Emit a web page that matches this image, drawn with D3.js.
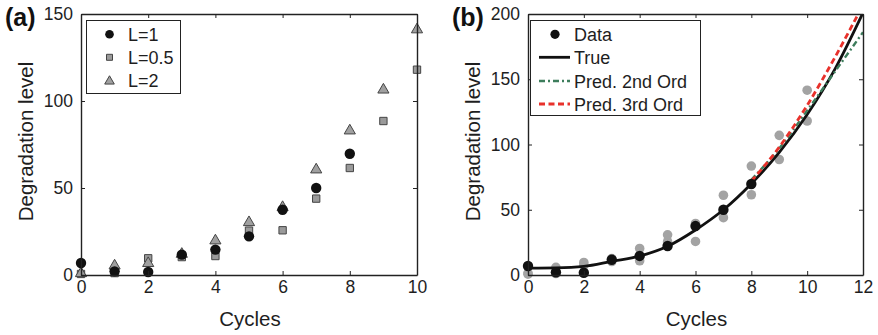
<!DOCTYPE html>
<html>
<head>
<meta charset="utf-8">
<script src="https://cdn.jsdelivr.net/npm/d3@7"></script>
<style>
  body { margin: 0; background: #fff; }
  svg { display: block; font-family: "Liberation Sans", Arial, sans-serif; }
</style>
</head>
<body>
<div id="container"></div>
<script>
/* DATA */
const cycles = [0, 1, 2, 3, 4, 5, 6, 7, 8, 9, 10];
const degL1 = [6.9, 2.1, 1.7, 11.7, 14.6, 22.2, 37.5, 50, 69.7];       // cycles 0..8
const degL05 = [0.6, 1.1, 9.6, 10.3, 10.9, 25.5, 25.7, 43.9, 61.5, 88.5, 118];
const degL2 = [1.5, 5.9, 7.3, 12.6, 20.3, 30.8, 39.5, 61.1, 83.5, 107, 141.6];

const trueCycles = [0, 1, 2, 3, 4, 5, 6, 7, 8, 9, 10, 11, 12];
const trueDeg = [5.2, 5.4, 6.6, 10.5, 14.5, 22, 34.5, 50, 70, 94, 123, 158, 201];
const predCycles = [8, 9, 10, 11, 12];
const pred2nd = [73, 97, 126, 156, 186];
const pred3rd = [72, 98, 130, 167, 207];

const xTicksA = [0, 2, 4, 6, 8, 10];
const yTicksA = [0, 50, 100, 150];
const xTicksB = [0, 2, 4, 6, 8, 10, 12];
const yTicksB = [0, 50, 100, 150, 200];

/* CONSTANTS */
const width = 878, height = 335;
const plotTop = 14, plotBottom = 275;
const textColor = "#1e1e1e";
const greyFill = "#9a9a9a";
const green = "#3d7d5c";
const red = "#e8312b";

const svg = d3.select("#container").append("svg")
  .attr("width", width).attr("height", height);

function frame(g, x, y, xTicks, yTicks) {
  const [x0, x1] = x.range();
  const [y0, y1] = y.range();
  const styleAxis = sel => {
    sel.select(".domain").attr("stroke", "#222").attr("stroke-width", 1.4);
    sel.selectAll(".tick line").attr("stroke", "#222").attr("stroke-width", 1);
    sel.selectAll("text").attr("fill", textColor).style("font-size", "17.5px");
  };
  g.append("g").attr("transform", `translate(0,${y0})`)
    .call(d3.axisBottom(x).tickValues(xTicks).tickSizeInner(-4).tickSizeOuter(0).tickPadding(6).tickFormat(d3.format("d")))
    .call(styleAxis);
  g.append("g").attr("transform", `translate(0,${y1})`)
    .call(d3.axisTop(x).tickValues(xTicks).tickSizeInner(-4).tickSizeOuter(0).tickFormat(""))
    .call(styleAxis);
  g.append("g").attr("transform", `translate(${x0},0)`)
    .call(d3.axisLeft(y).tickValues(yTicks).tickSizeInner(-4).tickSizeOuter(0).tickPadding(8).tickFormat(d3.format("d")))
    .call(styleAxis);
  g.append("g").attr("transform", `translate(${x1},0)`)
    .call(d3.axisRight(y).tickValues(yTicks).tickSizeInner(-4).tickSizeOuter(0).tickFormat(""))
    .call(styleAxis);
  g.selectAll("text").attr("font-family", "Liberation Sans, Arial, sans-serif");
}

function labels(g, x, y, tag, tagX) {
  const [x0, x1] = x.range();
  g.append("text").attr("x", (x0 + x1) / 2 + 1).attr("y", 326)
    .attr("text-anchor", "middle").attr("fill", textColor)
    .style("font-size", "20.5px").text("Cycles");
  g.append("text")
    .attr("transform", `translate(${x0 - 48},${(plotTop + plotBottom) / 2 - 3}) rotate(-90)`)
    .attr("text-anchor", "middle").attr("fill", textColor)
    .style("font-size", "20.5px").text("Degradation level");
  g.append("text").attr("x", tagX).attr("y", 26)
    .attr("fill", "#111").style("font-size", "25px").style("font-weight", "bold")
    .text(tag);
}

/* PANEL (a) */
const xA = d3.scaleLinear().domain([0, 10]).range([81, 417]);
const yA = d3.scaleLinear().domain([0, 150]).range([plotBottom, plotTop]);
const gA = svg.append("g");

const sq = d3.symbol().type(d3.symbolSquare).size(54);
const tri = d3.symbol().type(d3.symbolTriangle).size(54);

gA.selectAll(".sq").data(degL05).join("path").attr("class", "sq")
  .attr("d", sq)
  .attr("transform", (d, i) => `translate(${xA(cycles[i])},${yA(d)})`)
  .attr("fill", greyFill).attr("stroke", "#444").attr("stroke-width", 1);

gA.selectAll(".tri").data(degL2).join("path").attr("class", "tri")
  .attr("d", tri)
  .attr("transform", (d, i) => `translate(${xA(cycles[i])},${yA(d) + 1})`)
  .attr("fill", "#a0a0a0").attr("stroke", "#444").attr("stroke-width", 1);

gA.selectAll(".dot").data(degL1).join("circle").attr("class", "dot")
  .attr("cx", (d, i) => xA(cycles[i])).attr("cy", d => yA(d))
  .attr("r", 5.2).attr("fill", "#111");

frame(gA, xA, yA, xTicksA, yTicksA);
labels(gA, xA, yA, "(a)", 5);

// legend (a)
const legA = gA.append("g");
legA.append("rect").attr("x", 86.5).attr("y", 20.5).attr("width", 94).attr("height", 73)
  .attr("fill", "#fff").attr("stroke", "#222").attr("stroke-width", 1);
const legAItems = ["L=1", "L=0.5", "L=2"];
const legARows = [34.3, 57.3, 80.3];
legA.append("circle").attr("cx", 109.5).attr("cy", legARows[0]).attr("r", 4.3).attr("fill", "#111");
legA.append("path").attr("d", d3.symbol().type(d3.symbolSquare).size(36))
  .attr("transform", `translate(109.5,${legARows[1]})`)
  .attr("fill", greyFill).attr("stroke", "#444");
legA.append("path").attr("d", d3.symbol().type(d3.symbolTriangle).size(40))
  .attr("transform", `translate(109.5,${legARows[2] + 1})`)
  .attr("fill", "#a0a0a0").attr("stroke", "#444");
legA.selectAll(".lt").data(legAItems).join("text").attr("class", "lt")
  .attr("x", 128).attr("y", (d, i) => legARows[i] + 6.5)
  .attr("fill", textColor).style("font-size", "18px").text(d => d);

/* PANEL (b) */
const xB = d3.scaleLinear().domain([0, 12]).range([528, 863]);
const yB = d3.scaleLinear().domain([0, 200]).range([plotBottom, plotTop]);
const gB = svg.append("g");

svg.append("defs").append("clipPath").attr("id", "clipB")
  .append("rect").attr("x", 528).attr("y", plotTop).attr("width", 335).attr("height", plotBottom - plotTop);

const grey = degL05.map((d, i) => [cycles[i], d]).concat(degL2.map((d, i) => [cycles[i], d]));
gB.selectAll(".gdot").data(grey).join("circle").attr("class", "gdot")
  .attr("cx", d => xB(d[0])).attr("cy", d => yB(d[1]))
  .attr("r", 4.8).attr("fill", "#a3a3a3");

const lineB = d3.line().x(d => xB(d[0])).y(d => yB(d[1]));
const plotB = gB.append("g").attr("clip-path", "url(#clipB)");

plotB.append("path")
  .datum(trueCycles.map((c, i) => [c, trueDeg[i]]))
  .attr("d", lineB.curve(d3.curveMonotoneX))
  .attr("fill", "none").attr("stroke", "#111").attr("stroke-width", 2.8);

plotB.append("path")
  .datum(predCycles.map((c, i) => [c, pred2nd[i]]))
  .attr("d", lineB.curve(d3.curveMonotoneX))
  .attr("fill", "none").attr("stroke", green).attr("stroke-width", 2.4)
  .attr("stroke-dasharray", "6,3,2,3");

plotB.append("path")
  .datum(predCycles.map((c, i) => [c, pred3rd[i]]))
  .attr("d", lineB.curve(d3.curveMonotoneX))
  .attr("fill", "none").attr("stroke", red).attr("stroke-width", 2.8)
  .attr("stroke-dasharray", "6,3.5");

gB.selectAll(".bdot").data(degL1).join("circle").attr("class", "bdot")
  .attr("cx", (d, i) => xB(cycles[i])).attr("cy", d => yB(d))
  .attr("r", 5.2).attr("fill", "#111");

frame(gB, xB, yB, xTicksB, yTicksB);
labels(gB, xB, yB, "(b)", 452);

// legend (b)
const legB = gB.append("g");
legB.append("rect").attr("x", 530.5).attr("y", 20.5).attr("width", 170).attr("height", 95)
  .attr("fill", "#fff").attr("stroke", "#222").attr("stroke-width", 1);
const legBItems = ["Data", "True", "Pred. 2nd Ord", "Pred. 3rd Ord"];
const legBRows = [34.3, 57.3, 81, 104];
legB.append("circle").attr("cx", 555).attr("cy", legBRows[0]).attr("r", 4.6).attr("fill", "#111");
legB.append("line").attr("x1", 539).attr("x2", 570).attr("y1", legBRows[1]).attr("y2", legBRows[1])
  .attr("stroke", "#111").attr("stroke-width", 2.8);
legB.append("line").attr("x1", 539).attr("x2", 570).attr("y1", legBRows[2]).attr("y2", legBRows[2])
  .attr("stroke", green).attr("stroke-width", 2.4).attr("stroke-dasharray", "6,3,2,3");
legB.append("line").attr("x1", 539).attr("x2", 570).attr("y1", legBRows[3]).attr("y2", legBRows[3])
  .attr("stroke", red).attr("stroke-width", 2.8).attr("stroke-dasharray", "6,3.5");
legB.selectAll(".lt").data(legBItems).join("text").attr("class", "lt")
  .attr("x", 574).attr("y", (d, i) => legBRows[i] + 6.5)
  .attr("fill", textColor).style("font-size", "18px").text(d => d);
</script>
</body>
</html>
